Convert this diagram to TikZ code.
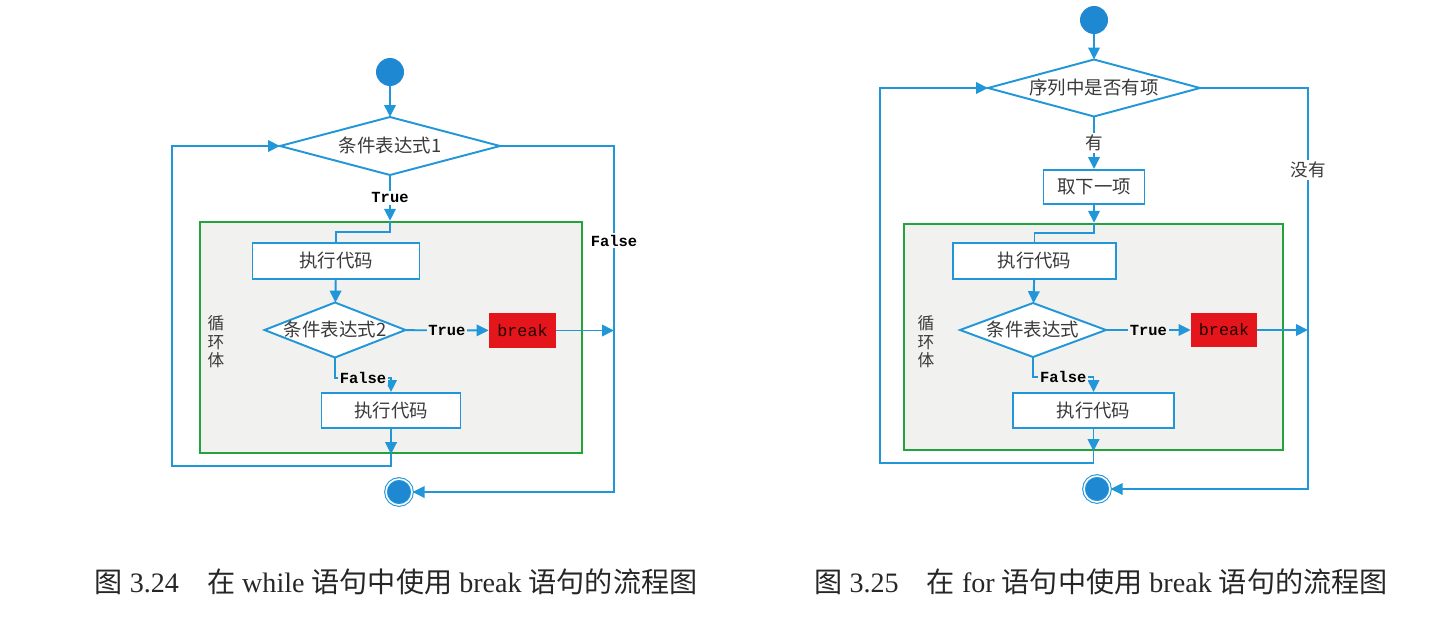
\documentclass[tikz,border=0pt]{standalone}
\usepackage{fontspec}
\setmainfont{Liberation Serif}
\newfontfamily\cjk{Noto Sans CJK SC}
\newfontfamily\codefont{Liberation Mono}
\usetikzlibrary{arrows.meta,shapes.geometric,calc}
\definecolor{flowblue}{HTML}{2196D9}
\definecolor{dotblue}{HTML}{1E88D2}
\definecolor{bodygreen}{HTML}{22A33C}
\definecolor{bodygray}{HTML}{F1F1F0}
\definecolor{brkred}{HTML}{E4161C}
\definecolor{ink}{HTML}{3A3A3A}
\newcommand{\zh}[1]{{\cjk #1}}

\begin{document}
\begin{tikzpicture}[x=0.02cm,y=-0.02cm,
  box/.style={draw=flowblue,line width=1.1pt,fill=white,inner sep=0pt,font=\cjk\fontsize{10.5}{12}\selectfont,text=ink},
  cond/.style={diamond,draw=flowblue,line width=1.1pt,fill=white,inner sep=0pt,outer sep=0pt,aspect=2.5,text height=2.6mm,text depth=0pt,font=\cjk\fontsize{10.5}{12}\selectfont,text=ink},
  brk/.style={fill=brkred,minimum width=13.4mm,minimum height=7mm,inner sep=0pt,font=\codefont\fontsize{9.5}{10}\selectfont,text=black!85!red},
  body/.style={draw=bodygreen,line width=1.4pt,fill=bodygray},
  startpt/.style={circle,fill=dotblue,minimum size=5.6mm,inner sep=0pt},
  endpt/.style={circle,fill=dotblue,draw=flowblue,double=white,double distance=.9pt,line width=.6pt,minimum size=5.2mm,inner sep=0pt},
  flow/.style={-{Triangle[length=2.4mm,width=2.3mm]},line width=1.1pt,draw=flowblue},
  link/.style={line width=1.1pt,draw=flowblue},
  lbl/.style={font=\codefont\bfseries\fontsize{8.8}{10}\selectfont,inner sep=1pt,text=black},
  note/.style={font=\cjk\fontsize{10}{12}\selectfont,text=ink,inner sep=1pt},
  figcap/.style={font=\fontsize{16}{18}\selectfont,text=black!85}]
\useasboundingbox (0,0) rectangle (1453,622);

% while loop with break
\node[body,minimum width=76.4mm,minimum height=46.2mm] (lbody) at (391,337.5) {};
\node[note,align=center,font=\cjk\fontsize{9.5}{10.5}\selectfont] (lname) at (216,342) {循\\环\\体};
\node[startpt] (lstart) at (390,72) {};
\node[cond,minimum width=44mm,minimum height=11.6mm] (lcond) at (390,146) {条件表达式1};
\node[box,minimum width=33.4mm,minimum height=7.2mm] (lrun) at (336,261) {执行代码};
\node[cond,minimum width=28.2mm,minimum height=11mm] (lcheck) at (335,330) {条件表达式2};
\node[brk] (lbreak) at (522.5,330.5) {break};
\node[box,minimum width=27.8mm,minimum height=7mm] (lrest) at (391,410.5) {执行代码};
\node[endpt] (lend) at (399,492) {};
\coordinate (lin) at (lcond.south |- lbody.north);
\coordinate (lout) at (lrest.south |- lbody.south);
\coordinate (lback) at (172,466);
\coordinate (lexit) at (614,492);
\draw[flow] (lstart) -- (lcond);
\draw[flow] (lcond) -- node[lbl,fill=white]{True} (lin);
\draw[link] (lin) -- ++(0,11) -| (lrun);
\draw[flow] (lrun) -- (lcheck);
\draw[flow] (lcheck) -- node[lbl,fill=bodygray]{True} (lbreak);
\draw[flow] (lcheck.south) |- node[lbl,fill=bodygray,pos=.75]{False} ($(lrest.north)+(0,-14)$) -- (lrest);
\draw[flow] (lrest) -- (lout);
\draw[flow] (lout) |- (lback) |- (lcond.west);
\draw[flow] (lcond.east) -| node[lbl,fill=white,pos=.637]{False} (lexit) -- (lend);
\draw[flow] (lbreak) -- (lbreak -| lexit);

% for loop with break
\node[body,minimum width=75.8mm,minimum height=45.2mm] (rbody) at (1093.5,337) {};
\node[note,align=center,font=\cjk\fontsize{9.5}{10.5}\selectfont] (rname) at (926,342) {循\\环\\体};
\node[startpt] (rstart) at (1094,20) {};
\node[cond,aspect=3.5,minimum width=42.4mm,minimum height=11.4mm] (rcond) at (1094,88) {序列中是否有项};
\node[box,minimum width=20.2mm,minimum height=6.8mm] (rnext) at (1094,187) {取下一项};
\node[box,minimum width=32.6mm,minimum height=7.2mm] (rrun) at (1034.5,261) {执行代码};
\node[cond,minimum width=29.2mm,minimum height=10.8mm] (rcheck) at (1033,330) {条件表达式};
\node[brk,minimum width=13.2mm,minimum height=6.8mm] (rbreak) at (1224,330) {break};
\node[box,minimum width=32.2mm,minimum height=7mm] (rrest) at (1093.5,410.5) {执行代码};
\node[endpt] (rend) at (1097,489) {};
\coordinate (rin) at (rnext.south |- rbody.north);
\coordinate (rout) at (rrest.south |- rbody.south);
\coordinate (rback) at (880,463);
\coordinate (rexit) at (1308,489);
\draw[flow] (rstart) -- (rcond);
\draw[flow] (rcond) -- node[note,fill=white]{有} (rnext);
\draw[flow] (rnext) -- (rin);
\draw[link] (rin) -- ++(0,10) -| (rrun);
\draw[flow] (rrun) -- (rcheck);
\draw[flow] (rcheck) -- node[lbl,fill=bodygray]{True} (rbreak);
\draw[flow] (rcheck.south) |- node[lbl,fill=bodygray,pos=.75]{False} ($(rrest.north)+(0,-15)$) -- (rrest);
\draw[flow] (rrest) -- (rout);
\draw[flow] (rout) |- (rback) |- (rcond.west);
\draw[flow] (rcond.east) -| node[note,fill=white,pos=.602]{没有} (rexit) -- (rend);
\draw[flow] (rbreak) -- (rbreak -| rexit);

\node[figcap] (lcap) at (396,582) {\zh{图} 3.24\quad\zh{在} while \zh{语句中使用} break \zh{语句的流程图}};
\node[figcap] (rcap) at (1101,582) {\zh{图} 3.25\quad\zh{在} for \zh{语句中使用} break \zh{语句的流程图}};
\end{tikzpicture}
\end{document}
